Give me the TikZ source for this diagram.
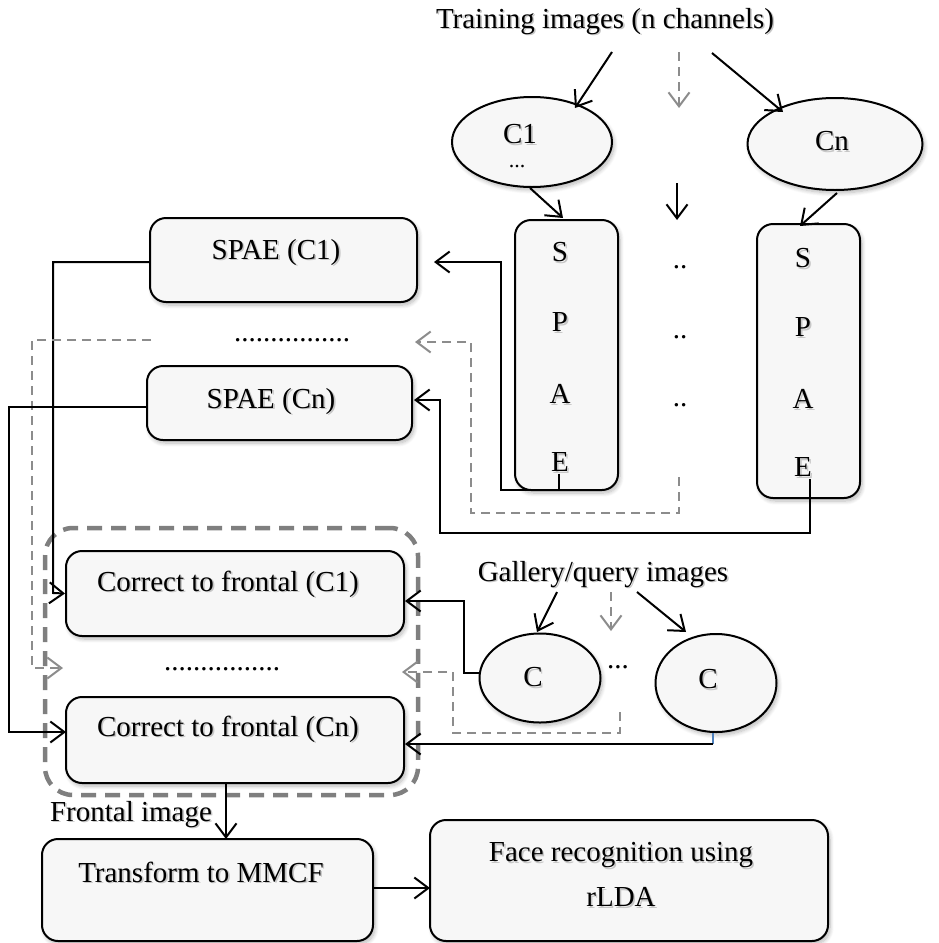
\documentclass[tikz,border=0pt]{standalone}
\usepackage{fontspec}
\setmainfont{Liberation Serif}
\usetikzlibrary{arrows.meta,shapes.geometric,shadows.blur}

\definecolor{boxfill}{HTML}{F7F7F7}
\definecolor{dashgray}{HTML}{8C8C8C}
\definecolor{framegray}{HTML}{7F7F7F}
\definecolor{linkblue}{HTML}{4F81BD}

% text with a soft grey offset copy behind it
\newcommand\shtxt[1]{\makebox[0pt][l]{\hspace{1.6pt}\raisebox{-1.6pt}{\color{black!22}#1}}#1}

\begin{document}
\begin{tikzpicture}[x=1pt,y=-1pt,
  every node/.style={font=\fontsize{29}{34}\selectfont},
  softshadow/.style={blur shadow={shadow xshift=2pt,shadow yshift=-3pt,shadow opacity=28,shadow blur radius=4pt,shadow blur steps=8}},
  box/.style={draw,line width=2pt,rounded corners=16pt,fill=boxfill,inner sep=0pt,softshadow},
  oval/.style={ellipse,draw,line width=2pt,fill=boxfill,inner sep=0pt,softshadow},
  txt/.style={inner sep=0pt},
  tip/.style={-{Straight Barb[length=14pt,width=21pt,line width=2pt]}},
  arr/.style={line width=2pt,tip},
  dasharr/.style={line width=2pt,draw=dashgray,dash pattern=on 9pt off 6pt,tip},
  frame/.style={draw=framegray,line width=4.5pt,dash pattern=on 15pt off 9pt,rounded corners=28pt,inner sep=0pt}]

\useasboundingbox (0,0) rectangle (938,943);

% ---------- training branch ----------
\node[txt] (train) at (605,22) {\shtxt{Training images (n channels)}};

\node[oval,minimum width=160pt,minimum height=90pt] (c1) at (532,142) {};
\node[txt] (c1t) at (520,135) {\shtxt{C1}};
\node[txt,font=\fontsize{22}{26}\selectfont] (c1d) at (517,167) {...};
\node[oval,minimum width=175pt,minimum height=92pt] (cn) at (835,144) {};
\node[txt] (cnt) at (832,142) {\shtxt{Cn}};

\node[box,minimum width=103pt,minimum height=270pt] (sv1) at (566.5,355) {};
\node[box,minimum width=103pt,minimum height=274pt] (sv2) at (808.5,361) {};
\node[txt] (s1) at (560,253) {\shtxt{S}};
\node[txt] (p1) at (560,323) {\shtxt{P}};
\node[txt] (a1) at (560,395) {\shtxt{A}};
\node[txt] (e1) at (560,463) {\shtxt{E}};
\node[txt] (s2) at (803,259) {\shtxt{S}};
\node[txt] (p2) at (803,328) {\shtxt{P}};
\node[txt] (a2) at (803,400) {\shtxt{A}};
\node[txt] (e2) at (803,468) {\shtxt{E}};
\node[txt] (m1) at (680,267) {..};
\node[txt] (m2) at (680,337) {..};
\node[txt] (m3) at (680,405) {..};

\node[box,minimum width=267pt,minimum height=84pt] (spae1) at (283.5,260) {};
\node[txt] at (276,253) {\shtxt{SPAE (C1)}};
\node[txt] (sdots) at (292,340) {................};
\node[box,minimum width=265pt,minimum height=74pt] (spaen) at (279.5,403) {};
\node[txt] at (271,402) {\shtxt{SPAE (Cn)}};

% ---------- correction stage ----------
\node[frame,minimum width=373pt,minimum height=267pt] (group) at (231.5,661.5) {};
\node[box,minimum width=338pt,minimum height=85pt] (cor1) at (235,593.5) {};
\node[txt] at (228,585) {\shtxt{Correct to frontal (C1)}};
\node[txt] (cdots) at (222,669) {................};
\node[box,minimum width=338pt,minimum height=86pt] (corn) at (235,740) {};
\node[txt] at (228,730) {\shtxt{Correct to frontal (Cn)}};

% ---------- gallery branch ----------
\node[txt] (gal) at (603,575) {\shtxt{Gallery/query images}};
\node[oval,minimum width=121pt,minimum height=89pt] (g1) at (540,678) {};
\node[txt] at (533,678) {\shtxt{C}};
\node[txt] (gdots) at (618,667) {...};
\node[oval,minimum width=121pt,minimum height=98pt] (g2) at (716,683) {};
\node[txt] at (708,680) {\shtxt{C}};

% ---------- recognition ----------
\node[txt] (front) at (131,815) {\shtxt{Frontal image}};
\node[box,minimum width=331pt,minimum height=102pt] (tr) at (207.5,890) {};
\node[txt] at (201,873) {\shtxt{Transform to MMCF}};
\node[box,minimum width=398pt,minimum height=121pt] (fr) at (629,880.5) {};
\node[txt] at (621,856) {\shtxt{Face recognition using}};
\node[txt] at (621,898) {\shtxt{rLDA}};

% ---------- connector ends ----------
\coordinate (ta) at (612,52);
\coordinate (tb) at (679,52);
\coordinate (tc) at (712,53);
\coordinate (mid) at (677,183);
\coordinate (ga) at (557,592);
\coordinate (gb) at (611,592);
\coordinate (gc) at (637,592);
\coordinate (d1) at (679,477);
\coordinate (d2) at (151,340);
\coordinate (d3) at (620,712);

% training images to channels
\draw[arr] (ta) -- (575,108);
\draw[dasharr] (tb) -- (679,108);
\draw[arr] (tc) -- (783,112);
\draw[arr] (c1.south) ++(-2,0) -- (563,218);
\draw[arr] (mid) -- (677,220);
\draw[arr] (cn.south) ++(2,2) -- (800,226);

% SPAE outputs
\draw[arr] (e1.south) ++(-1,0) -- (559,490) -- (501,490) -- (501,262) -- (434,262);
\draw[dasharr] (d1) -- (679,513) -- (471,513) -- (471,342) -- (415,342);
\draw[arr] (e2.south) ++(7,0) -- (810,533) -- (440,533) -- (440,400) -- (414,400);

% SPAE models into the correction stage
\draw[arr] (spae1.west) ++(0,2) -- (53,262) -- (53,593) -- (cor1.west);
\draw[dasharr] (d2) -- (32,340) -- (32,668) -- (63,668);
\draw[arr] (spaen.west) ++(0,4) -- (9,407) -- (9,732) -- (66,732);

% gallery images to the correction stage
\draw[arr] (ga) -- (537,632);
\draw[dasharr] (gb) -- (611,631);
\draw[arr] (gc) -- (686,632);
\draw[arr] (g1.west) ++(0,-5) -- (464,673) -- (464,601) -- (405,601);
\draw[dasharr] (d3) -- (620,733) -- (453,733) -- (453,672) -- (402,672);
\draw[linkblue,line width=1.5pt] (g2.south) ++(-3,0) -- (713,744);
\draw[arr] (713,744) -- (405,744);

% frontal image to recognition
\draw[arr] (corn.south) ++(-9,0) -- (226,839);
\draw[arr] (tr.east) ++(0,-2) -- (430,888);

\end{tikzpicture}
\end{document}
